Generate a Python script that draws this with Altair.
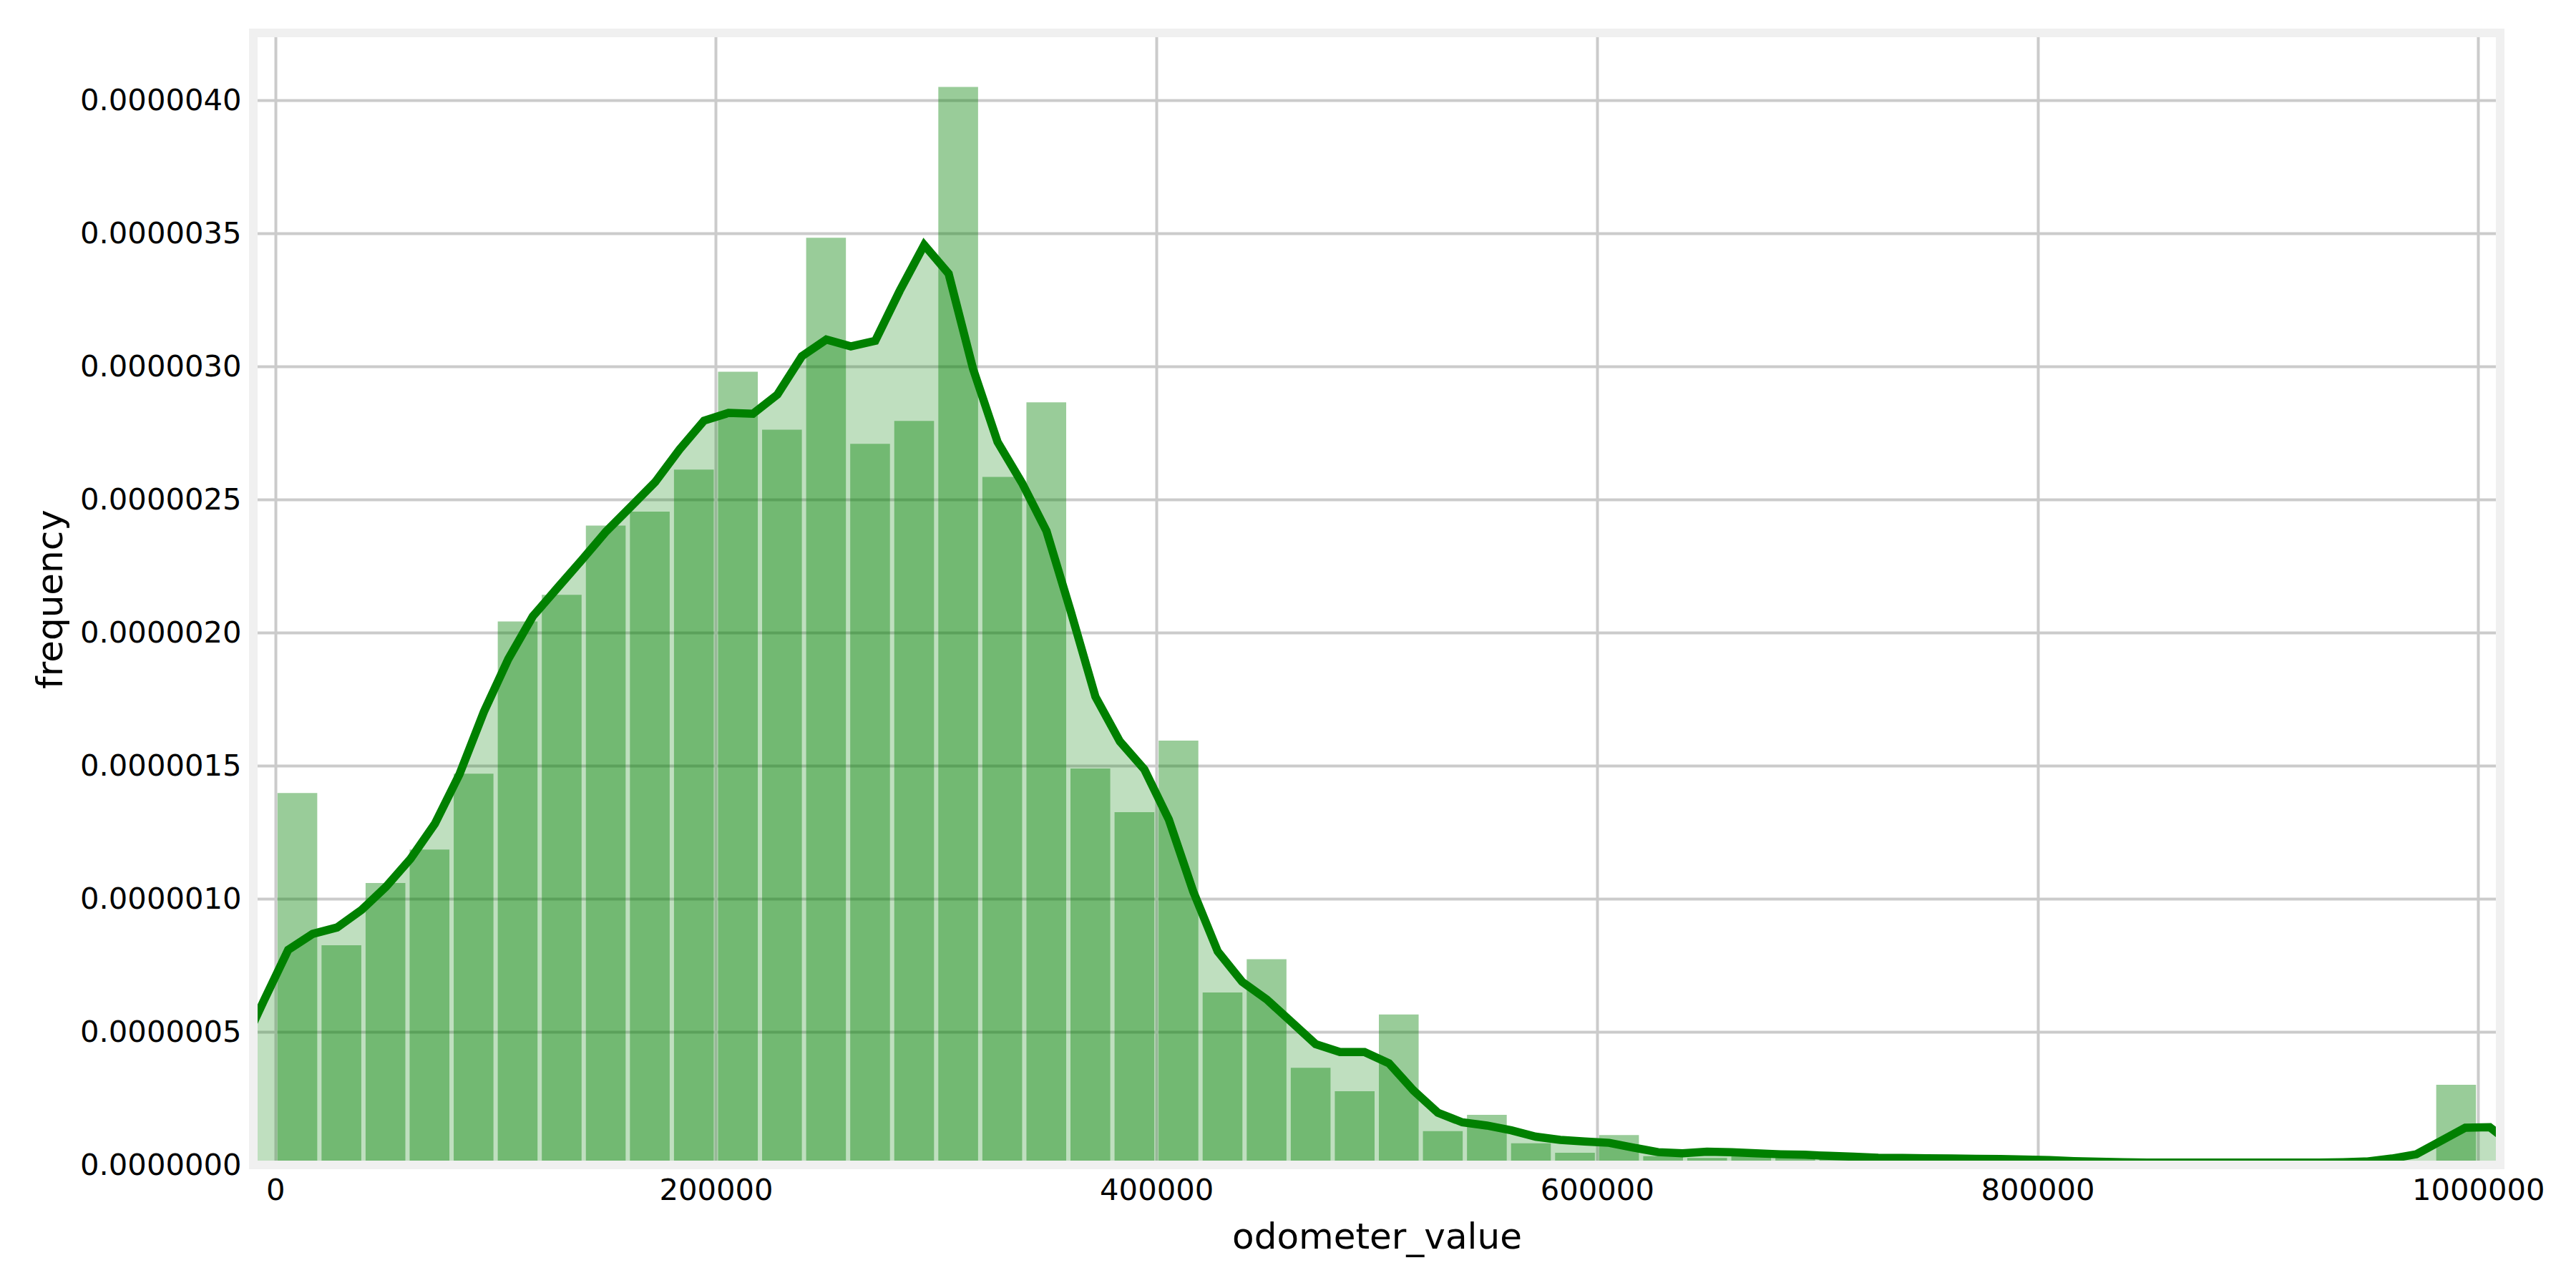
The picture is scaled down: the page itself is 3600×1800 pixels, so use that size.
import altair as alt
import numpy as np
import pandas as pd

# ---- histogram: 50 bins of width 20000 from 0 to 1,000,000 (density, x1e-7) ----
bin_width = 20000
bar_density_e7 = [
    13.97, 8.25, 10.59, 11.85, 14.70, 20.42, 21.42, 24.02, 24.54, 26.12,
    29.80, 27.62, 34.83, 27.09, 27.95, 40.50, 25.85, 28.65, 14.89, 13.25,
    15.94, 6.48, 7.73, 3.65, 2.77, 5.65, 1.27, 1.88, 0.81, 0.46,
    1.12, 0.33, 0.26, 0.40, 0.38, 0.35, 0.08, 0.06, 0.05, 0.05,
    0.04, 0.03, 0.03, 0.03, 0.02, 0.02, 0.02, 0.03, 0.05, 3.01,
]

# ---- KDE curve sampled on seaborn's grid (values x1e-7) ----
kde_grid_start = -49698
kde_grid_step = 11105
kde_first_index = 3
kde_density_e7 = [
    4.18, 6.16, 8.08, 8.68, 8.92, 9.58, 10.45, 11.50, 12.82, 14.67,
    17.02, 19.01, 20.61, 21.67, 22.72, 23.80, 24.72, 25.65, 26.88, 27.96,
    28.25, 28.22, 28.94, 30.38, 31.01, 30.75, 30.96, 32.84, 34.56, 33.48,
    29.90, 27.16, 25.62, 23.81, 20.77, 17.59, 15.91, 14.86, 12.98, 10.27,
    8.02, 6.88, 6.22, 5.38, 4.54, 4.24, 4.24, 3.82, 2.80, 1.96,
    1.60, 1.48, 1.30, 1.06, 0.94, 0.88, 0.83, 0.65, 0.48, 0.44,
    0.50, 0.48, 0.44, 0.40, 0.38, 0.34, 0.31, 0.27, 0.26, 0.25,
    0.24, 0.23, 0.22, 0.20, 0.18, 0.14, 0.12, 0.10, 0.09, 0.09,
    0.09, 0.09, 0.09, 0.09, 0.09, 0.09, 0.10, 0.13, 0.24, 0.40,
    0.90, 1.40, 1.42, 0.70,
]

x_ticks = [0, 200000, 400000, 600000, 800000, 1000000]
y_ticks = [0.0, 5e-7, 1e-6, 1.5e-6, 2e-6, 2.5e-6, 3e-6, 3.5e-6, 4e-6]
x_limits = [-10000, 1010000]
y_limits = [0.0, 4.2527e-6]

bars_df = pd.DataFrame({
    "bin_start": [i * bin_width for i in range(len(bar_density_e7))],
    "bin_end": [(i + 1) * bin_width for i in range(len(bar_density_e7))],
    "density": [v * 1e-7 for v in bar_density_e7],
    "base": [0.0] * len(bar_density_e7),
})
kde_df = pd.DataFrame({
    "x": [kde_grid_start + kde_grid_step * (kde_first_index + k) for k in range(len(kde_density_e7))],
    "density": [v * 1e-7 for v in kde_density_e7],
})

W, H = 3140, 1582
GREEN = "#008000"

xscale = alt.Scale(domain=x_limits, nice=False, zero=False)
yscale = alt.Scale(domain=y_limits, nice=False, zero=False)
xaxis = alt.Axis(values=x_ticks, format="d", title="odometer_value", labelFlush=False)
yaxis = alt.Axis(values=y_ticks, format=".7f", title="frequency",
                 titleX=-258, titleY=H / 2, titleAngle=270, titleBaseline="bottom",
                 titleAlign="center")

bars = alt.Chart(bars_df).mark_bar(
    color=GREEN, opacity=0.4, xOffset=3, x2Offset=-3, clip=True
).encode(
    x=alt.X("bin_start:Q", scale=xscale, axis=xaxis),
    x2="bin_end:Q",
    y=alt.Y("density:Q", scale=yscale, axis=yaxis),
    y2="base:Q",
)

area = alt.Chart(kde_df).mark_area(color=GREEN, opacity=0.25, clip=True).encode(
    x=alt.X("x:Q", scale=xscale, axis=xaxis),
    y=alt.Y("density:Q", scale=yscale, axis=yaxis),
)

line = alt.Chart(kde_df).mark_line(color=GREEN, strokeWidth=11.5, clip=True).encode(
    x=alt.X("x:Q", scale=xscale, axis=xaxis),
    y=alt.Y("density:Q", scale=yscale, axis=yaxis),
)

frame = alt.Chart(pd.DataFrame({"f": [0]})).mark_rect(
    fillOpacity=0, stroke="#f0f0f0", strokeWidth=12
).encode(
    x=alt.value(0), x2=alt.value(W), y=alt.value(0), y2=alt.value(H)
)

chart = alt.layer(bars, area, line, frame).properties(
    width=W,
    height=H,
    padding={"left": 346, "top": 38, "right": 90, "bottom": 150},
    autosize=alt.AutoSizeParams(type="none"),
    background="white",
).configure_view(
    stroke=None
).configure_axis(
    labelFont="DejaVu Sans",
    labelFontSize=41.7,
    labelColor="black",
    labelLimit=0,
    titleFont="DejaVu Sans",
    titleFontSize=50,
    titleFontWeight="normal",
    titleColor="black",
    gridColor="#cbcbcb",
    gridWidth=4,
    domain=False,
    ticks=False,
    tickSize=0,
).configure_axisX(
    labelPadding=15, titlePadding=20
).configure_axisY(
    labelPadding=17
)

chart.save("out.html", embed_options={"renderer": "svg", "actions": False})
